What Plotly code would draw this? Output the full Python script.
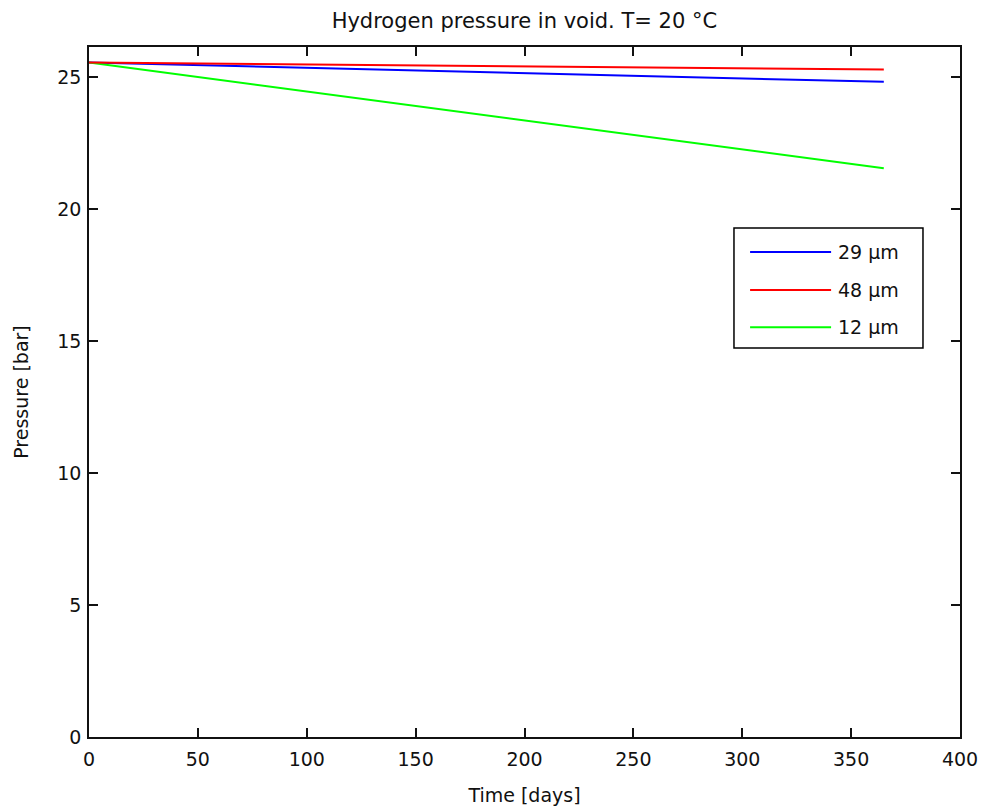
import plotly.graph_objects as go

# Data
days = [0, 100, 200, 300, 365]
p_29um = [25.55, 25.35, 25.15, 24.95, 24.82]
p_48um = [25.55, 25.48, 25.41, 25.34, 25.29]
p_12um = [25.55, 24.45, 23.36, 22.26, 21.55]

series_names = ["29 µm", "48 µm", "12 µm"]
series_values = [p_29um, p_48um, p_12um]
series_colors = ["#0000FF", "#FF0000", "#00FF00"]

x_ticks = [0, 50, 100, 150, 200, 250, 300, 350, 400]
y_ticks = [0, 5, 10, 15, 20, 25]

FONT = "DejaVu Sans, Verdana, sans-serif"
FS = 19
TXT = "#111"

fig = go.Figure()
# draw order: blue, green, red (red overlays at the start like the reference)
for i in [0, 2, 1]:
    fig.add_trace(go.Scatter(x=days, y=series_values[i], mode="lines", name=series_names[i],
                             line=dict(color=series_colors[i], width=2), showlegend=False))

# Custom MATLAB-style legend
box = dict(x0=0.7405, x1=0.9575, y0=0.5638, y1=0.7377)
shapes = [dict(type="rect", xref="paper", yref="paper", **box,
               line=dict(color="black", width=1.5), fillcolor="white", layer="above")]
row_y = [0.703, 0.648, 0.594]
annotations = []
for name, col, yy in zip(series_names, series_colors, row_y):
    shapes.append(dict(type="line", xref="paper", yref="paper", x0=0.759, x1=0.852,
                       y0=yy, y1=yy, line=dict(color=col, width=2), layer="above"))
    annotations.append(dict(xref="paper", yref="paper", x=0.858, y=yy, text=name,
                            showarrow=False, xanchor="left", yanchor="middle",
                            font=dict(family=FONT, size=FS, color=TXT)))

axis_common = dict(showline=True, linecolor=TXT, linewidth=1.5, mirror="ticks",
                   ticks="inside", ticklen=9, tickcolor=TXT, tickwidth=1.5,
                   showgrid=False, zeroline=False, automargin=False,
                   tickfont=dict(family=FONT, size=FS, color=TXT))

fig.update_layout(
    width=982, height=812,
    margin=dict(l=89, r=22, t=47, b=75, autoexpand=False),
    paper_bgcolor="white", plot_bgcolor="white",
    title=dict(text="Hydrogen pressure in void. T= 20 °C", x=0.534, xanchor="center",
               y=0.975, yanchor="middle",
               font=dict(family=FONT, size=21, color=TXT)),
    xaxis=dict(range=[0, 400], tickvals=x_ticks, ticktext=[str(v) for v in x_ticks],
               ticklabelstandoff=4,
               title=dict(text="Time [days]", font=dict(family=FONT, size=FS, color=TXT),
                          standoff=20),
               **axis_common),
    yaxis=dict(range=[0, 26.14], tickvals=y_ticks, ticktext=[str(v) for v in y_ticks],
               ticklabelstandoff=2,
               title=dict(text="Pressure [bar]", font=dict(family=FONT, size=FS, color=TXT),
                          standoff=24),
               **axis_common),
    shapes=shapes,
    annotations=annotations,
)

fig.write_html("out.html")
